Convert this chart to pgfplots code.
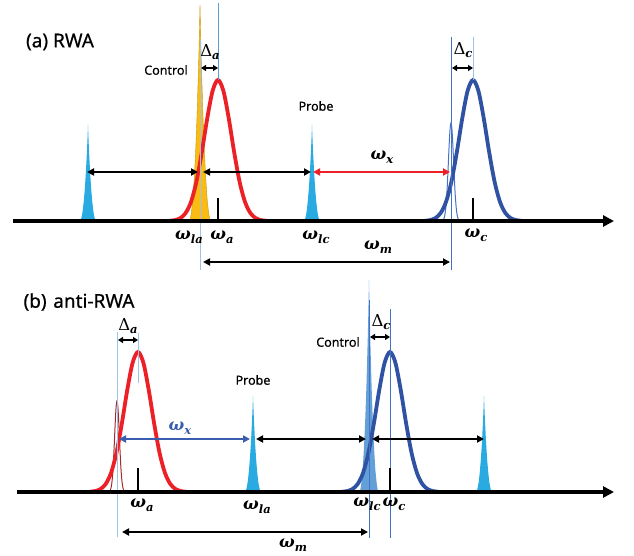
\documentclass[border=0pt]{standalone}
\usepackage{pgfplots}
\pgfplotsset{compat=1.18}
\usepackage{pgfplotstable}
\usepackage{fontspec}
\setmainfont{Noto Sans}[FakeBold=0.6]
\newfontfamily\ms{DejaVu Serif}
\usetikzlibrary{arrows.meta}

\definecolor{cyanpk}{RGB}{41,171,226}
\definecolor{gold}{RGB}{250,188,20}
\definecolor{redc}{RGB}{235,33,39}
\definecolor{navy}{RGB}{47,82,163}
\definecolor{lineblue}{RGB}{68,114,196}
\definecolor{paleblue}{RGB}{157,195,230}
\definecolor{steel}{RGB}{91,155,213}
\definecolor{darkred}{RGB}{168,40,45}
\definecolor{xblue}{RGB}{58,93,174}

% normalised line shapes: u = offset, v = relative height
\pgfplotstableread{
u v
-3.6 0.0015
-3.2 0.0060
-2.8 0.0198
-2.4 0.0561
-2.0 0.1353
-1.6 0.2780
-1.2 0.4868
-0.8 0.7261
-0.4 0.9231
0 1
0.4 0.9231
0.8 0.7261
1.2 0.4868
1.6 0.2780
2.0 0.1353
2.4 0.0561
2.8 0.0198
3.2 0.0060
3.6 0.0015
}\gauss

\pgfplotstableread{
u v
-1 0
-0.857 0.04
-0.714 0.10
-0.571 0.20
-0.429 0.33
-0.286 0.50
-0.143 0.72
-0.071 0.85
0 1
0.071 0.85
0.143 0.72
0.286 0.50
0.429 0.33
0.571 0.20
0.714 0.10
0.857 0.04
1 0
}\spike

% #1 shape, #2 centre, #3 half width, #4 base y, #5 height, #6 style
\newcommand{\peak}[6]{\addplot[#6] table[x expr=\thisrow{u}*#3+#2, y expr=#4-\thisrow{v}*#5]{#1};}

\newcommand{\sub}[1]{\raisebox{-0.45ex}{\fontsize{11.5}{12}\selectfont\ms\bfseries\itshape #1}}
\newcommand{\W}[1]{{\ms\bfseries\itshape ω\sub{#1}}}
\newcommand{\D}[1]{{\ms Δ\sub{#1}}}

\tikzset{
  dbl/.style={line width=1.8pt, {Triangle[length=7pt,width=7pt]}-{Triangle[length=7pt,width=7pt]}},
  small/.style={line width=1.6pt, {Triangle[length=5pt,width=6pt]}-{Triangle[length=5pt,width=6pt]}},
  baseline/.style={line width=3.5pt, -{Triangle[length=11pt,width=11pt]}},
  lab/.style={font=\fontsize{16.5}{18}\selectfont, inner sep=0pt},
  txt/.style={font=\fontsize{12.5}{14}\selectfont\bfseries},
}

\begin{document}
\begin{tikzpicture}
\begin{axis}[hide axis, scale only axis, x=1pt, y=1pt, y dir=reverse,
  xmin=0, xmax=634, ymin=0, ymax=556, clip=false]

\path (0,0) rectangle (634,556);

%%%%%%%%%%%%%%%% (a) RWA
\peak{\spike}{88}{7.5}{221}{96}{fill=cyanpk, draw=none}
\peak{\spike}{312}{7.5}{221}{96}{fill=cyanpk, draw=none}
\peak{\spike}{200}{10}{221}{216}{fill=gold, draw=gold!80!black, line width=0.4pt}
\peak{\gauss}{451}{2.6}{221}{98}{lineblue, line width=1pt, smooth}
\peak{\gauss}{218}{13.5}{221}{141}{redc, line width=3.8pt, smooth}
\peak{\gauss}{473}{13.5}{221}{141}{navy, line width=3.8pt, smooth}

\addplot[paleblue, line width=0.8pt] coordinates {(200,40) (200,270)};
\addplot[steel, line width=0.7pt] coordinates {(218,3) (218,80)};
\addplot[lineblue, line width=1pt] coordinates {(451,37) (451,270)};
\addplot[paleblue, line width=0.8pt] coordinates {(473,37) (473,80)};
\addplot[black, line width=2pt] coordinates {(218,198) (218,221)};
\addplot[black, line width=2pt] coordinates {(473,198) (473,221)};

\draw[baseline] (13,221) -- (614,221);
\draw[dbl] (87,172) -- (198,172);
\draw[dbl] (203,172) -- (311,172);
\draw[dbl, redc] (313,172) -- (450,172);
\draw[dbl] (203,262) -- (450,262);
\draw[small] (201,68) -- (218,68);
\draw[small] (452,68) -- (473,68);

\node[font=\fontsize{19}{21}\selectfont\bfseries] at (60,42) {(a) RWA};
\node[txt] at (166,70) {Control};
\node[txt] at (316,106) {Probe};
\node[lab] at (210,52) {\D{a}};
\node[lab] at (463,50) {\D{c}};
\node[lab] at (189,237) {\W{la}};
\node[lab] at (222,237) {\W{a}};
\node[lab] at (316,237) {\W{lc}};
\node[lab] at (476,235) {\W{c}};
\node[lab] at (382,157) {\W{x}};
\node[lab] at (378,247) {\W{m}};

%%%%%%%%%%%%%%%% (b) anti-RWA
\peak{\spike}{253}{7.5}{492}{96}{fill=cyanpk, draw=none}
\peak{\spike}{484}{7.5}{492}{96}{fill=cyanpk, draw=none}
\peak{\gauss}{117}{2.4}{492}{91}{darkred, line width=1pt, smooth}
\peak{\gauss}{138}{13.5}{492}{140}{redc, line width=3.8pt, smooth}
\peak{\spike}{369}{9}{492}{212}{fill=steel, draw=none, fill opacity=0.95}
\peak{\gauss}{390}{13.5}{492}{140}{navy, line width=3.8pt, smooth}

\addplot[paleblue, line width=0.8pt] coordinates {(117,332) (117,537)};
\addplot[paleblue, line width=0.8pt] coordinates {(138,333) (138,383)};
\addplot[lineblue, line width=1pt] coordinates {(369,300) (369,538)};
\addplot[lineblue, line width=1pt] coordinates {(390,309) (390,538)};
\addplot[black, line width=2pt] coordinates {(138,468) (138,492)};
\addplot[black, line width=2pt] coordinates {(390,468) (390,492)};

\draw[baseline] (17,492) -- (614,492);
\draw[dbl, xblue] (119,439) -- (250,439);
\draw[dbl] (256,439) -- (366,439);
\draw[dbl] (372,439) -- (484,439);
\draw[dbl] (122,532) -- (368,532);
\draw[small] (118,340) -- (138,340);
\draw[small] (370,337) -- (390,337);

\node[font=\fontsize{19}{21}\selectfont\bfseries] at (79,302) {(b)\hspace{0.35em}anti-RWA};
\node[txt] at (338,342) {Control};
\node[txt] at (253,380) {Probe};
\node[lab] at (128,326) {\D{a}};
\node[lab] at (381,322) {\D{c}};
\node[lab] at (142,505) {\W{a}};
\node[lab] at (257,507) {\W{la}};
\node[lab] at (367,504) {\W{lc}};
\node[lab] at (394,504) {\W{c}};
\node[lab, text=xblue] at (180,428) {\W{x}};
\node[lab] at (293,545) {\W{m}};

\end{axis}
\end{tikzpicture}
\end{document}
